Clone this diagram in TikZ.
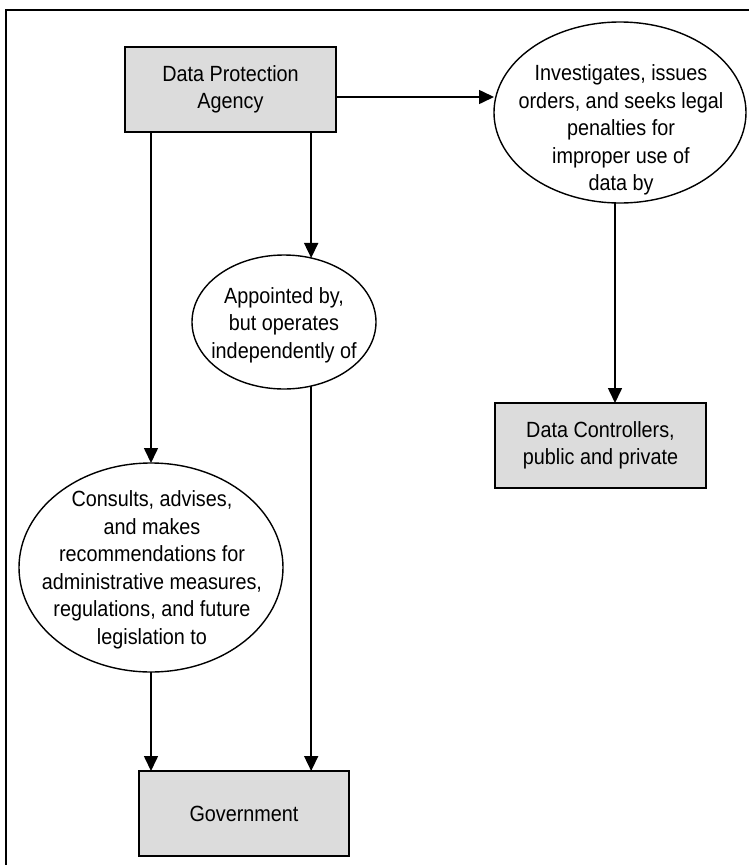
\documentclass[tikz,border=0pt]{standalone}
\usepackage{fontspec}
\setmainfont{Liberation Sans}[FakeStretch=0.9]
\usetikzlibrary{arrows.meta,shapes.geometric}
\definecolor{boxgray}{HTML}{DCDCDC}
\begin{document}
\begin{tikzpicture}[x=1pt,y=-1pt,
  every node/.style={font=\fontsize{22}{27.5}\selectfont, align=center, inner sep=0pt, outer sep=0pt},
  entity/.style={draw, line width=1.8pt, fill=boxgray, minimum width=211pt, minimum height=85pt},
  process/.style={draw, ellipse, line width=1.4pt, fill=white},
  txt/.style={},
  arr/.style={line width=1.6pt, -{Triangle[length=15pt,width=14pt]}}]
\useasboundingbox (0,0) rectangle (749,865);
% outer frame
\draw[line width=2pt] (6,865) -- (6,10) -- (749,10);

% entities
\node[entity] (dpa) at (230.5,89.5) {Data Protection\\Agency};
\node[entity] (dc)  at (600.5,445.5) {Data Controllers,\\public and private};
\node[entity, minimum width=210pt] (gov) at (244,813.5) {Government};

% processes
\node[process, minimum width=252pt, minimum height=181pt] (inv) at (620,112.5) {};
\node[txt] (invtxt) at (621,130) {Investigates, issues\\orders, and seeks legal\\penalties for\\improper use of\\data by};
\node[process, minimum width=184pt, minimum height=134pt] (app) at (284,322) {};
\node[txt] (apptxt) at (284,325) {Appointed by,\\but operates\\independently of};
\node[process, minimum width=264pt, minimum height=209pt] (cons) at (151,567.5) {};
\node[txt] (constxt) at (152,570) {Consults, advises,\\and makes\\recommendations for\\administrative measures,\\regulations, and future\\legislation to};

% connectors
\draw[arr] ([yshift=-7.5pt]dpa.east) -- ([yshift=-7.5pt]dpa.east -| inv.west);
\draw[arr] ([xshift=-5pt]inv.south) -- ([xshift=-5pt]inv.south |- dc.north);
\draw[arr] (app.67 |- dpa.south) -- (app.67);
\draw[arr] (app.-67) -- (app.-67 |- gov.north);
\draw[arr] (cons.north |- dpa.south) -- (cons.north);
\draw[arr] (cons.south) -- (cons.south |- gov.north);
\end{tikzpicture}
\end{document}
